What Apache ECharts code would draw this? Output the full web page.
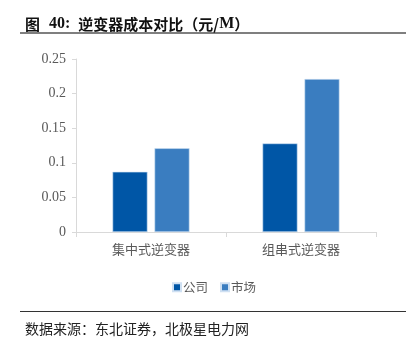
<!DOCTYPE html>
<html>
<head>
<meta charset="utf-8">
<script src="https://cdn.jsdelivr.net/npm/echarts@6/dist/echarts.min.js"></script>
<style>
  html, body { margin: 0; padding: 0; background: #fff; }
  #chart { width: 406px; height: 346px; }
</style>
</head>
<body>
<div id="chart"></div>
<script>
// Inverter cost comparison (yuan/W)
const categories = ['集中式逆变器', '组串式逆变器'];
const companyCost = [0.087, 0.128];
const marketCost = [0.121, 0.221];
const seriesNames = ['公司', '市场'];
const yTicks = [0, 0.05, 0.1, 0.15, 0.2, 0.25];

const chart = echarts.init(document.getElementById('chart'), null, { renderer: 'canvas' });

const labelColor = '#595959';
const cjkFont = '"Noto Sans CJK SC", "Noto Sans", sans-serif';
const serifFont = '"Liberation Serif", "DejaVu Serif", serif';

chart.setOption({
  animation: false,
  backgroundColor: '#ffffff',
  title: [
    {
      text: '{a|图}{b|40:}{a|逆变器成本对比（元/}{c|M}{a|）}',
      left: 20,
      top: 11,
      textStyle: {
        rich: {
          a: { fontSize: 15, fontWeight: 'bold', color: '#111', fontFamily: cjkFont },
          b: { fontSize: 16, fontWeight: 'bold', color: '#111', fontFamily: serifFont, padding: [0, 8, 0, 9] },
          c: { fontSize: 16, fontWeight: 'bold', color: '#111', fontFamily: serifFont }
        }
      }
    },
    {
      text: '数据来源：东北证券，北极星电力网',
      left: 20,
      top: 317,
      textStyle: { fontSize: 14, fontWeight: 'normal', color: '#222', fontFamily: cjkFont }
    }
  ],
  graphic: [
    { type: 'rect', shape: { x: 20, y: 32, width: 386, height: 2 }, style: { fill: '#7f7f7f' } },
    { type: 'rect', shape: { x: 20, y: 311, width: 386, height: 1 }, style: { fill: '#333' } }
  ],
  legend: {
    data: seriesNames,
    left: 167,
    top: 276,
    itemWidth: 8,
    itemHeight: 8,
    itemGap: 12,
    icon: 'rect',
    textStyle: { fontSize: 12.5, color: labelColor, fontFamily: cjkFont, padding: [0, 0, 0, -3] }
  },
  grid: { left: 76, right: 30, top: 59, bottom: 114, containLabel: false },
  xAxis: {
    type: 'category',
    data: categories,
    axisLine: { lineStyle: { color: '#d9d9d9', width: 1 } },
    axisTick: { show: true, length: 5, lineStyle: { color: '#d9d9d9' } },
    axisLabel: { fontSize: 13, color: labelColor, fontFamily: cjkFont, margin: 11 }
  },
  yAxis: {
    type: 'value',
    min: yTicks[0],
    max: yTicks[yTicks.length - 1],
    interval: 0.05,
    axisLine: { show: true, lineStyle: { color: '#d9d9d9', width: 1 } },
    axisTick: { show: true, length: 4, lineStyle: { color: '#d9d9d9' } },
    splitLine: { show: false },
    axisLabel: {
      fontSize: 14,
      color: labelColor,
      fontFamily: serifFont,
      margin: 10,
      formatter: v => String(+v.toFixed(2))
    }
  },
  series: [
    {
      name: seriesNames[0],
      type: 'bar',
      data: companyCost,
      barWidth: 35,
      barGap: '20%',
      itemStyle: { color: '#0056a6', borderColor: '#cfe0f2', borderWidth: 0.6 }
    },
    {
      name: seriesNames[1],
      type: 'bar',
      data: marketCost,
      barWidth: 35,
      itemStyle: { color: '#3a7dc0', borderColor: '#cfe0f2', borderWidth: 0.6 }
    }
  ]
});
</script>
</body>
</html>
